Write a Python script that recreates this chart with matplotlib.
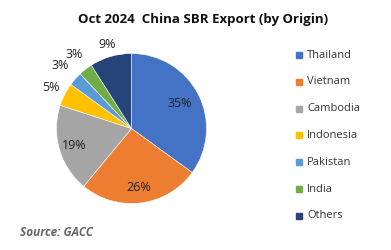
import numpy as np
import matplotlib.pyplot as plt

# share of China SBR exports by origin, Oct 2024
countries = ['Thailand', 'Vietnam', 'Cambodia', 'Indonesia', 'Pakistan', 'India', 'Others']
shares = [35, 26, 19, 5, 3, 3, 9]
colors = ['#4472C4', '#ED7D31', '#A5A5A5', '#FFC000', '#5B9BD5', '#70AD47', '#264478']

plt.rcParams['font.family'] = ['Open Sans', 'DejaVu Sans']

fig = plt.figure(figsize=(3.91, 2.5), dpi=100)
W, H = 391, 250
cx, cy, r = 131.5, 128.5, 75
ax = fig.add_axes([(cx - r) / W, 1 - (cy + r) / H, 2 * r / W, 2 * r / H])

wedges, _ = ax.pie(shares, colors=colors, startangle=90, counterclock=False,
                   wedgeprops=dict(linewidth=0.4, edgecolor='white'))
ax.set_aspect('auto')
ax.set_xlim(-1, 1)
ax.set_ylim(-1, 1)

# label radius per slice: big ones inside, small ones outside
label_r = [0.72, 0.79, 0.8, 1.2, 1.27, 1.25, 1.17]
for w, s, lr in zip(wedges, shares, label_r):
    ang = np.deg2rad((w.theta1 + w.theta2) / 2)
    ax.text(lr * np.cos(ang), lr * np.sin(ang), f'{s}%', ha='center', va='center',
            fontsize=9, color='#222222')

fig.text(203 / W, 1 - 20 / H, 'Oct 2024  China SBR Export (by Origin)',
         ha='center', va='center', fontsize=9.5, fontweight='bold', color='#111111')

# legend
for i, (name, c) in enumerate(zip(countries, colors)):
    y = 1 - (55 + i * 26.8) / H
    fig.patches.append(plt.Rectangle((296 / W, y - 3 / H), 6 / W, 6 / H,
                                     transform=fig.transFigure, color=c))
    fig.text(307 / W, y, name, ha='left', va='center', fontsize=8, color='#333333')

fig.text(20 / W, 1 - 233 / H, 'Source: GACC', ha='left', va='center', fontsize=8.5,
         fontweight='bold', fontstyle='italic', color='#666666')

fig.savefig('out.png', dpi=100)
